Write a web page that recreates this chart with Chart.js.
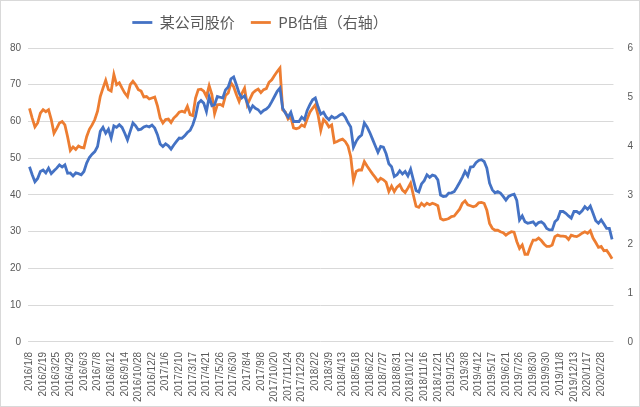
<!DOCTYPE html>
<html>
<head>
<meta charset="utf-8">
<script src="https://cdn.jsdelivr.net/npm/chart.js@4.4.0/dist/chart.umd.min.js"></script>
<style>
  html, body { margin: 0; padding: 0; background: #fff; }
  #box { width: 638px; height: 405px; border: 1px solid #d9d9d9; }
</style>
</head>
<body>
<div id="box"><canvas id="myChart" width="638" height="405"></canvas></div>
<script>
// weekly dates (trading weeks)
var dates = [
  "2016/1/8","2016/1/15","2016/1/22","2016/1/29","2016/2/5","2016/2/19","2016/2/26","2016/3/4","2016/3/11","2016/3/18",
  "2016/3/25","2016/4/1","2016/4/8","2016/4/15","2016/4/22","2016/4/29","2016/5/6","2016/5/13","2016/5/20","2016/5/27",
  "2016/6/3","2016/6/8","2016/6/17","2016/6/24","2016/7/1","2016/7/8","2016/7/15","2016/7/22","2016/7/29","2016/8/5",
  "2016/8/12","2016/8/19","2016/8/26","2016/9/2","2016/9/9","2016/9/14","2016/9/23","2016/9/30","2016/10/14","2016/10/21",
  "2016/10/28","2016/11/4","2016/11/11","2016/11/18","2016/11/25","2016/12/2","2016/12/9","2016/12/16","2016/12/23","2016/12/30",
  "2017/1/6","2017/1/13","2017/1/20","2017/1/26","2017/2/3","2017/2/10","2017/2/17","2017/2/24","2017/3/3","2017/3/10",
  "2017/3/17","2017/3/24","2017/3/31","2017/4/7","2017/4/14","2017/4/21","2017/4/28","2017/5/5","2017/5/12","2017/5/19",
  "2017/5/26","2017/6/2","2017/6/9","2017/6/16","2017/6/23","2017/6/30","2017/7/7","2017/7/14","2017/7/21","2017/7/28",
  "2017/8/4","2017/8/11","2017/8/18","2017/8/25","2017/9/1","2017/9/8","2017/9/15","2017/9/22","2017/9/29","2017/10/13",
  "2017/10/20","2017/10/27","2017/11/3","2017/11/10","2017/11/17","2017/11/24","2017/12/1","2017/12/8","2017/12/15","2017/12/22",
  "2017/12/29","2018/1/5","2018/1/12","2018/1/19","2018/1/26","2018/2/2","2018/2/9","2018/2/14","2018/2/23","2018/3/2",
  "2018/3/9","2018/3/16","2018/3/23","2018/3/30","2018/4/4","2018/4/13","2018/4/20","2018/4/27","2018/5/4","2018/5/11",
  "2018/5/18","2018/5/25","2018/6/1","2018/6/8","2018/6/15","2018/6/22","2018/6/29","2018/7/6","2018/7/13","2018/7/20",
  "2018/7/27","2018/8/3","2018/8/10","2018/8/17","2018/8/24","2018/8/31","2018/9/7","2018/9/14","2018/9/21","2018/9/28",
  "2018/10/12","2018/10/19","2018/10/26","2018/11/2","2018/11/9","2018/11/16","2018/11/23","2018/11/30","2018/12/7","2018/12/14",
  "2018/12/21","2018/12/28","2019/1/4","2019/1/11","2019/1/18","2019/1/25","2019/2/1","2019/2/15","2019/2/22","2019/3/1",
  "2019/3/8","2019/3/15","2019/3/22","2019/3/29","2019/4/4","2019/4/12","2019/4/19","2019/4/26","2019/4/30","2019/5/10",
  "2019/5/17","2019/5/24","2019/5/31","2019/6/6","2019/6/14","2019/6/21","2019/6/28","2019/7/5","2019/7/12","2019/7/19",
  "2019/7/26","2019/8/2","2019/8/9","2019/8/16","2019/8/23","2019/8/30","2019/9/6","2019/9/12","2019/9/20","2019/9/27",
  "2019/9/30","2019/10/11","2019/10/18","2019/10/25","2019/11/1","2019/11/8","2019/11/15","2019/11/22","2019/11/29","2019/12/6",
  "2019/12/13","2019/12/20","2019/12/27","2020/1/3","2020/1/10","2020/1/17","2020/1/23","2020/2/7","2020/2/14","2020/2/21",
  "2020/2/28","2020/3/6","2020/3/13","2020/3/20","2020/3/27"
];

// 某公司股价 (left axis)
var price = [
  47.7,45.5,43.6,44.5,46.4,46.8,46.0,47.3,45.8,46.6,47.3,48.2,47.6,48.2,45.9,46.0,45.2,46.0,45.8,45.5,
  46.4,48.7,50.2,51.1,51.8,53.2,57.3,58.4,56.8,57.9,55.5,58.8,58.4,59.1,58.4,56.8,
  55.0,57.3,59.6,58.8,57.7,57.9,58.5,58.8,58.5,59.0,58.2,56.4,53.9,53.2,53.9,53.4,52.5,53.6,54.6,55.5,
  55.4,56.1,57.0,57.6,59.1,61.4,65.0,65.7,65.0,62.7,66.7,64.3,64.6,66.8,66.6,66.4,
  68.6,69.4,71.6,72.1,70.0,67.7,66.4,67.0,65.0,62.9,64.3,63.6,63.2,62.3,63.0,63.4,64.1,65.4,66.8,68.2,
  69.1,63.6,62.3,61.2,62.5,60.0,60.0,60.0,61.2,60.5,63.0,64.6,65.9,66.4,64.0,62.0,
  62.5,61.2,60.5,61.4,60.9,61.2,61.8,62.1,61.2,59.7,58.5,53.0,54.6,55.7,56.3,59.6,58.5,57.0,55.2,53.4,
  51.6,53.2,53.0,51.2,48.5,47.7,45.0,45.5,46.6,45.7,46.4,45.2,47.0,44.1,
  41.2,40.8,43.0,43.9,45.5,44.8,45.4,45.2,44.1,40.0,39.6,39.7,40.5,40.6,40.9,42.1,43.4,44.8,46.4,45.2,
  47.6,47.7,48.8,49.4,49.6,49.1,47.3,43.2,41.4,40.6,40.9,40.5,39.6,38.6,39.6,40.0,40.2,38.5,
  33.2,34.3,32.7,32.3,32.5,32.7,31.8,32.5,32.7,32.1,30.9,30.5,30.5,32.7,33.4,35.5,35.5,35.0,34.3,33.7,
  35.5,35.5,35.0,35.7,36.8,36.1,37.0,35.0,33.0,32.3,33.2,32.1,30.9,30.9,27.9
];

// PB估值 (right axis)
var pb = [
  4.77,4.57,4.39,4.47,4.67,4.74,4.70,4.74,4.54,4.26,4.36,4.47,4.50,4.43,4.19,3.91,3.98,3.93,4.00,3.97,
  3.96,4.19,4.34,4.43,4.54,4.71,5.01,5.18,5.34,5.15,5.12,5.46,5.25,5.29,5.18,5.08,
  5.01,5.25,5.32,5.25,5.15,5.12,5.00,5.01,4.96,4.98,5.00,4.82,4.57,4.47,4.54,4.55,4.48,4.57,4.62,4.69,
  4.71,4.69,4.81,4.64,4.62,4.98,5.15,5.16,5.12,5.01,5.23,5.05,4.66,4.84,4.85,4.82,
  5.03,5.08,5.29,5.21,5.05,4.91,5.07,5.18,4.84,4.96,5.08,5.13,5.16,5.09,5.15,5.17,5.30,5.35,5.44,5.52,
  5.59,4.74,4.69,4.55,4.59,4.37,4.35,4.37,4.43,4.40,4.55,4.69,4.77,4.84,4.63,4.32,
  4.54,4.48,4.39,4.43,4.07,4.09,4.12,4.14,4.09,4.00,3.78,3.29,3.48,3.51,3.51,3.68,3.59,3.51,3.43,3.36,
  3.28,3.34,3.31,3.26,3.07,3.18,3.07,3.16,3.21,3.10,3.05,3.14,3.24,3.00,
  2.77,2.75,2.83,2.78,2.83,2.80,2.83,2.81,2.78,2.52,2.49,2.50,2.52,2.56,2.57,2.64,2.71,2.83,2.88,2.80,
  2.78,2.76,2.78,2.84,2.85,2.83,2.69,2.42,2.32,2.28,2.28,2.25,2.23,2.18,2.22,2.25,2.24,2.05,
  1.91,1.98,1.79,1.79,1.95,2.08,2.08,2.12,2.07,2.00,1.95,1.95,1.98,2.15,2.18,2.16,2.16,2.15,2.09,2.18,
  2.16,2.15,2.18,2.22,2.25,2.22,2.27,2.12,2.03,1.93,1.95,1.86,1.87,1.79,1.70
];

var seriesNames = ["某公司股价", "PB估值（右轴）"];
var lineColors = ["#4472C4", "#ED7D31"];
var tickFont = { family: "'Liberation Sans', Arial, sans-serif", size: 10 };

// legend sits left of centre and a bit higher in the original
var legendNudge = {
  id: "legendNudge",
  afterLayout: function (chart) {
    chart.legend.right -= 122;
    chart.legend.top -= 8;
  }
};

new Chart("myChart", {
  type: "line",
  data: {
    labels: dates,
    datasets: [{
      label: seriesNames[0],
      data: price,
      borderColor: lineColors[0],
      backgroundColor: lineColors[0],
      borderWidth: 2.8,
      pointRadius: 0,
      tension: 0,
      yAxisID: "y"
    }, {
      label: seriesNames[1],
      data: pb,
      borderColor: lineColors[1],
      backgroundColor: lineColors[1],
      borderWidth: 2.8,
      pointRadius: 0,
      tension: 0,
      yAxisID: "y1"
    }]
  },
  plugins: [legendNudge],
  options: {
    responsive: false,
    animation: false,
    layout: { padding: { left: 2, right: 0, top: 6, bottom: 2 } },
    plugins: {
      legend: {
        position: "top",
        labels: {
          usePointStyle: true,
          pointStyle: "line",
          pointStyleWidth: 20,
          padding: 16,
          color: "#595959",
          font: { family: "'Noto Sans CJK SC', sans-serif", size: 15 }
        }
      },
      tooltip: { enabled: false }
    },
    scales: {
      x: {
        offset: true,
        grid: { display: false },
        border: { display: false },
        ticks: {
          autoSkip: false,
          maxRotation: 90,
          minRotation: 90,
          color: "#595959",
          font: tickFont,
          padding: 2,
          callback: function (v, i) { return i % 5 == 0 ? dates[i] : null; }
        }
      },
      y: {
        position: "left",
        min: 0,
        max: 80,
        ticks: { stepSize: 10, color: "#595959", font: tickFont, padding: 7 },
        grid: { color: "#d9d9d9", lineWidth: 1, drawTicks: false },
        border: { display: false }
      },
      y1: {
        position: "right",
        min: 0,
        max: 6,
        ticks: { stepSize: 1, color: "#595959", font: tickFont, padding: 6 },
        grid: { display: false },
        border: { display: false }
      }
    }
  }
});
</script>
</body>
</html>
